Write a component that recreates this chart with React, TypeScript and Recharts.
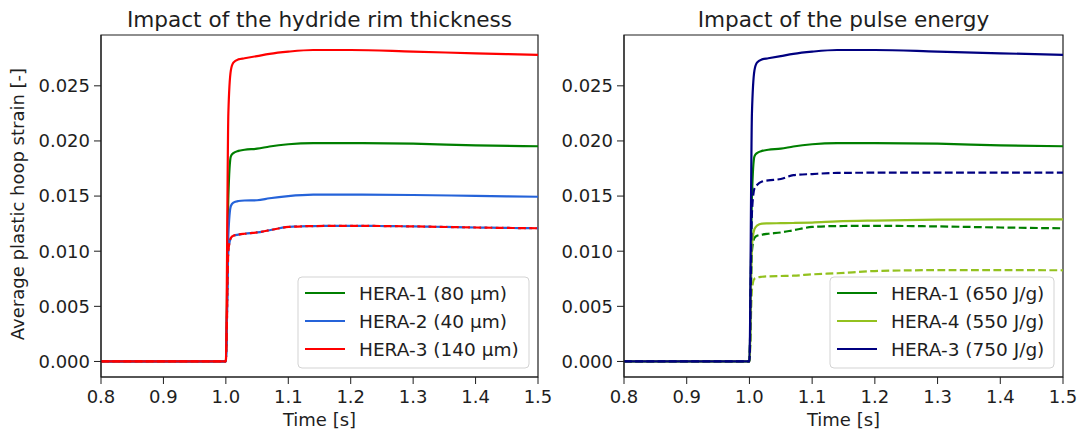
import React from 'react';
import { LineChart, Line, XAxis, YAxis, ReferenceArea } from 'recharts';

// time grid [s]
const time = [0.8, 1.0, 1.004, 1.008, 1.012, 1.02, 1.03, 1.05, 1.07, 1.1, 1.14, 1.2, 1.3, 1.4, 1.5];

// solid curves
const hera1 = [0, 0, 0.015, 0.0186, 0.0189, 0.0191, 0.0192, 0.0193, 0.0195, 0.0197, 0.0198, 0.0198, 0.01975, 0.0196, 0.01952];
const hera2 = [0, 0, 0.0115, 0.0141, 0.0144, 0.01455, 0.0146, 0.01462, 0.0148, 0.015, 0.01513, 0.01514, 0.0151, 0.01502, 0.01494];
const hera3 = [0, 0, 0.0225, 0.0264, 0.0271, 0.0274, 0.0275, 0.0277, 0.0279, 0.0281, 0.02825, 0.02825, 0.0281, 0.02795, 0.0278];
const hera4 = [0, 0, 0.0105, 0.012, 0.01232, 0.0125, 0.01252, 0.01254, 0.01256, 0.0126, 0.0127, 0.01278, 0.01286, 0.01288, 0.01288];

// dashed curves
const hera1Dash = [0, 0, 0.01, 0.0112, 0.0114, 0.0115, 0.01158, 0.0117, 0.0119, 0.0122, 0.01228, 0.0123, 0.01225, 0.01215, 0.01208];
const hera3Dash = [0, 0, 0.0135, 0.0157, 0.016, 0.01632, 0.01642, 0.01655, 0.0169, 0.017, 0.0171, 0.01712, 0.01712, 0.01712, 0.01712];
const hera4Dash = [0, 0, 0.0065, 0.0075, 0.0076, 0.00768, 0.00772, 0.00775, 0.00778, 0.0079, 0.008, 0.0082, 0.00828, 0.00828, 0.00827];

const xTicks = [0.8, 0.9, 1.0, 1.1, 1.2, 1.3, 1.4, 1.5];
const yTicks = [0, 0.005, 0.01, 0.015, 0.02, 0.025];

const leftLegend = ['HERA-1 (80 \u03bcm)', 'HERA-2 (40 \u03bcm)', 'HERA-3 (140 \u03bcm)'];
const rightLegend = ['HERA-1 (650 J/g)', 'HERA-4 (550 J/g)', 'HERA-3 (750 J/g)'];

const GREEN = '#007f00';
const BLUE = '#2563d9';
const RED = '#ff0000';
const NAVY = '#000080';
const YGREEN = '#93c11f';
const INK = '#1e1e1e';
const FONT = 'DejaVu Sans, sans-serif';

const rows = time.map((t, i) => ({
  t,
  h1: hera1[i],
  h2: hera2[i],
  h3: hera3[i],
  h4: hera4[i],
  h1d: hera1Dash[i],
  h3d: hera3Dash[i],
  h4d: hera4Dash[i],
}));

const xDomain = [0.8, 1.5];
const yDomain = [-0.00141, 0.02961];
const DASH = '7.8 3.4';

const LegendBox = ({ x, y, w, labels, colors }: any) => (
  <g>
    <rect x={x} y={y} width={w} height={91} rx={4} fill="#fff" fillOpacity={0.85} stroke="#d3d3d3" />
    {labels.map((l: string, i: number) => (
      <g key={l}>
        <line x1={x + 7} x2={x + 47} y1={y + 16 + i * 28} y2={y + 16 + i * 28} stroke={colors[i]} strokeWidth={2.1} />
        <text x={x + 61} y={y + 22.5 + i * 28} fontSize={18.5} fill={INK} fontFamily={FONT}>{l}</text>
      </g>
    ))}
  </g>
);

const axes = (yw: number) => [
  <XAxis
    key="x"
    dataKey="t"
    type="number"
    domain={xDomain}
    ticks={xTicks}
    allowDataOverflow
    tickFormatter={(v: number) => v.toFixed(1)}
    height={58}
    tickSize={7}
    tickMargin={6}
    tick={{ fontSize: 18, fill: INK, fontFamily: FONT }}
    stroke={INK}
  />,
  <YAxis
    key="y"
    type="number"
    domain={yDomain}
    ticks={yTicks}
    allowDataOverflow
    tickFormatter={(v: number) => v.toFixed(3)}
    width={yw}
    tickSize={7}
    tickMargin={4}
    tick={{ fontSize: 18, fill: INK, fontFamily: FONT }}
    stroke={INK}
  />,
  <ReferenceArea
    key="frame"
    x1={xDomain[0]}
    x2={xDomain[1]}
    y1={yDomain[0]}
    y2={yDomain[1]}
    fill="none"
    fillOpacity={0}
    stroke={INK}
    strokeWidth={1.2}
    ifOverflow="visible"
  />,
];

const common = { dot: false, activeDot: false, isAnimationActive: false, strokeWidth: 2.2, type: 'monotone' as const };

export default function App() {
  return (
    <div style={{ position: 'absolute', left: 0, top: 0, width: 1079, height: 435, background: '#fff', fontFamily: FONT }}>
      <div style={{ position: 'absolute', left: 0, top: 0 }}>
        <LineChart width={560} height={435} data={rows} margin={{ top: 35, right: 22, bottom: 0, left: 0 }}>
          {axes(101)}
          <Line dataKey="h1" stroke={GREEN} {...common} />
          <Line dataKey="h2" stroke={BLUE} {...common} />
          <Line dataKey="h1d" stroke={BLUE} strokeDasharray={DASH} strokeDashoffset={5} {...common} />
          <Line dataKey="h3" stroke={RED} {...common} />
          <Line dataKey="h1d" stroke={RED} strokeDasharray={DASH} {...common} />
          <text x={319.5} y={27} textAnchor="middle" fontSize={21.6} fill={INK} fontFamily={FONT}>Impact of the hydride rim thickness</text>
          <text x={24} y={204} transform="rotate(-90 24 204)" textAnchor="middle" fontSize={18} fill={INK} fontFamily={FONT}>Average plastic hoop strain [-]</text>
          <text x={319.5} y={426} textAnchor="middle" fontSize={18} fill={INK} fontFamily={FONT}>Time [s]</text>
          <LegendBox x={298} y={277} w={231} labels={leftLegend} colors={[GREEN, BLUE, RED]} />
        </LineChart>
      </div>
      <div style={{ position: 'absolute', left: 540, top: 0 }}>
        <LineChart width={539} height={435} data={rows} margin={{ top: 35, right: 16, bottom: 0, left: 0 }}>
          {axes(84)}
          <Line dataKey="h1" stroke={GREEN} {...common} />
          <Line dataKey="h1d" stroke={GREEN} strokeDasharray={DASH} {...common} />
          <Line dataKey="h4" stroke={YGREEN} {...common} />
          <Line dataKey="h4d" stroke={YGREEN} strokeDasharray={DASH} {...common} />
          <Line dataKey="h3" stroke={NAVY} {...common} />
          <Line dataKey="h3d" stroke={NAVY} strokeDasharray={DASH} {...common} />
          <text x={303.5} y={27} textAnchor="middle" fontSize={21.6} fill={INK} fontFamily={FONT}>Impact of the pulse energy</text>
          <text x={303.5} y={426} textAnchor="middle" fontSize={18} fill={INK} fontFamily={FONT}>Time [s]</text>
          <LegendBox x={290} y={277} w={224} labels={rightLegend} colors={[GREEN, YGREEN, NAVY]} />
        </LineChart>
      </div>
    </div>
  );
}
